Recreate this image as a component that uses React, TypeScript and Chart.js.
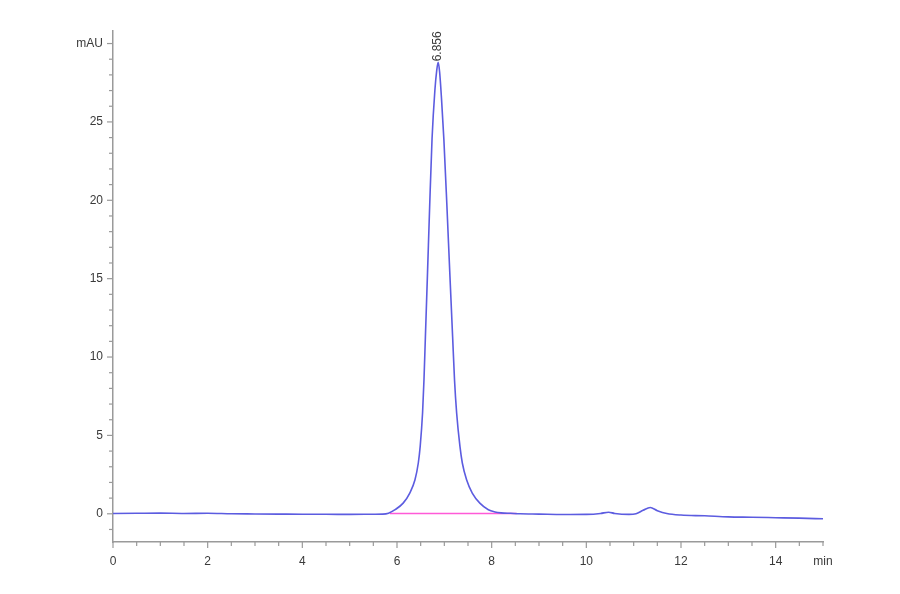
import React, { useEffect, useRef } from "react";
import { Chart, registerables } from "chart.js";

Chart.register(...registerables);

// Retention time (min) and absorbance (mAU)
const times: number[] = [
  0, 0.5, 1.0, 1.5, 2.0, 2.5, 3.0, 3.5, 4.0, 4.5, 5.0, 5.5, 5.7, 5.82, 5.96, 6.13, 6.27, 6.38,
  6.45, 6.49, 6.54, 6.57, 6.6, 6.645, 6.69, 6.74, 6.8, 6.84, 6.87, 6.9, 6.94, 6.99, 7.055, 7.115,
  7.175, 7.215, 7.26, 7.33, 7.38, 7.47, 7.59, 7.75, 7.93, 8.07, 8.2, 8.4, 8.6, 9.0, 9.5, 10.0,
  10.3, 10.47, 10.6, 10.9, 11.05, 11.2, 11.35, 11.5, 11.7, 12.0, 12.5, 13.0, 13.5, 14.0, 14.5,
  15.0,
];
const absorbance: number[] = [
  0.02, 0.03, 0.04, 0.02, 0.03, 0.0, -0.01, -0.02, -0.03, -0.03, -0.04, -0.03, -0.02, 0.04,
  0.26, 0.68, 1.32, 2.17, 3.24, 4.3, 6.43, 8.55, 11.3, 15.4, 19.6, 23.9, 27.0, 28.3, 28.8, 28.2,
  26.5, 23.9, 19.6, 15.4, 11.3, 8.55, 6.43, 4.3, 3.24, 2.17, 1.32, 0.68, 0.26, 0.12, 0.06, 0.03,
  0.0, -0.02, -0.05, -0.04, 0.02, 0.1, 0.02, -0.04, 0.0, 0.22, 0.4, 0.2, 0.02, -0.08, -0.13,
  -0.2, -0.22, -0.25, -0.28, -0.32,
];
// Integration baseline (start/end time, value)
const baselineTimes: number[] = [5.85, 8.53];
const baselineValues: number[] = [0.02, 0.02];
// Peak annotation
const peakLabel = "6.856";
const peakTime = 6.87;
const peakHeight = 28.8;

// Axis ticks
const xLabels: number[] = [0, 2, 4, 6, 8, 10, 12, 14];
const yLabels: number[] = [0, 5, 10, 15, 20, 25];
const xUnit = "min";
const yUnit = "mAU";

const AXIS_COLOR = "#9a9a9a";
const TEXT_COLOR = "#3a3a3a";

export default function App() {
  const ref = useRef<HTMLCanvasElement | null>(null);

  useEffect(() => {
    if (!ref.current) return;
    const tickPlugin = {
      id: "customTicks",
      afterDraw(chart: any) {
        const { ctx, scales } = chart;
        const xs = scales.x;
        const ys = scales.y;
        ctx.save();
        ctx.strokeStyle = AXIS_COLOR;
        ctx.lineWidth = 1.2;
        const bottom = ys.getPixelForValue(ys.min);
        for (let v = 0; v <= xs.max + 1e-9; v += 0.5) {
          const px = xs.getPixelForValue(v);
          const major = xLabels.includes(v);
          ctx.beginPath();
          ctx.moveTo(px, bottom);
          ctx.lineTo(px, bottom + (major ? 6 : 4));
          ctx.stroke();
        }
        const left = xs.getPixelForValue(xs.min);
        for (let v = Math.ceil(ys.min); v <= Math.floor(ys.max); v += 1) {
          const py = ys.getPixelForValue(v);
          const major = v % 5 === 0;
          ctx.beginPath();
          ctx.moveTo(left, py);
          ctx.lineTo(left - (major ? 6 : 4), py);
          ctx.stroke();
        }
        ctx.restore();
      },
      afterDatasetsDraw(chart: any) {
        const { ctx, scales } = chart;
        const px = scales.x.getPixelForValue(peakTime);
        const py = scales.y.getPixelForValue(peakHeight);
        ctx.save();
        ctx.translate(px, py - 1);
        ctx.rotate(-Math.PI / 2);
        ctx.fillStyle = TEXT_COLOR;
        ctx.font = "12px 'Liberation Sans', Arial, sans-serif";
        ctx.textAlign = "left";
        ctx.textBaseline = "middle";
        ctx.fillText(peakLabel, 0, 0);
        ctx.restore();
      },
    };

    const chart = new Chart(ref.current, {
      type: "line",
      data: {
        datasets: [
          {
            label: "signal",
            data: times.map((t, i) => ({ x: t, y: absorbance[i] })),
            borderColor: "#5c5ce0",
            borderWidth: 1.6,
            pointRadius: 0,
            cubicInterpolationMode: "monotone",
            fill: false,
          },
          {
            label: "baseline",
            data: baselineTimes.map((t, i) => ({ x: t, y: baselineValues[i] })),
            borderColor: "#ff5ad8",
            borderWidth: 1.6,
            pointRadius: 0,
            fill: false,
          },
        ],
      },
      options: {
        animation: false,
        responsive: false,
        layout: { padding: { left: 0, top: 31, right: 77, bottom: 0 } },
        plugins: { legend: { display: false }, tooltip: { enabled: false } },
        scales: {
          x: {
            type: "linear",
            min: 0,
            max: 15,
            border: { display: true, color: AXIS_COLOR, width: 1.5 },
            grid: { display: false, drawTicks: false },
            afterFit: (s: any) => {
              s.height = 52;
            },
            ticks: {
              stepSize: 0.5,
              autoSkip: false,
              maxRotation: 0,
              includeBounds: false,
              padding: 12,
              color: TEXT_COLOR,
              font: { family: "'Liberation Sans', Arial, sans-serif", size: 12 },
              callback: (v: any) => {
                const n = Number(v);
                if (Math.abs(n - 15) < 1e-9) return xUnit;
                return xLabels.includes(n) ? String(n) : "";
              },
            },
          },
          y: {
            type: "linear",
            min: -1.8,
            max: 30.8,
            border: { display: true, color: AXIS_COLOR, width: 1.5 },
            grid: { display: false, drawTicks: false },
            afterFit: (s: any) => {
              s.width = 113;
            },
            ticks: {
              stepSize: 1,
              autoSkip: false,
              includeBounds: false,
              padding: 10,
              color: TEXT_COLOR,
              font: { family: "'Liberation Sans', Arial, sans-serif", size: 12 },
              callback: (v: any) => {
                const n = Number(v);
                if (n === 30) return yUnit;
                return yLabels.includes(n) ? String(n) : "";
              },
            },
          },
        },
      },
      plugins: [tickPlugin],
    } as any);
    return () => chart.destroy();
  }, []);

  return (
    <div style={{ position: "fixed", left: 0, top: 0, width: 900, height: 594, background: "#fff" }}>
      <canvas ref={ref} width={900} height={594} style={{ width: 900, height: 594 }} />
    </div>
  );
}
